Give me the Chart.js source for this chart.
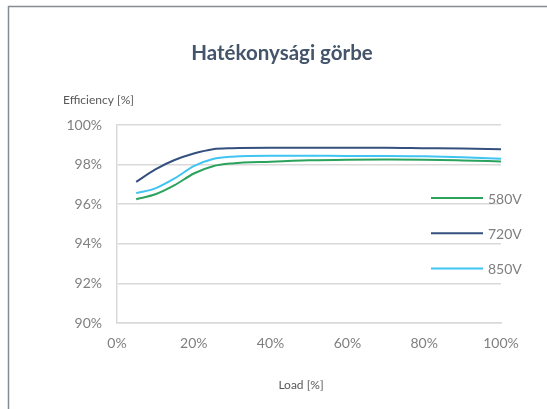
<!DOCTYPE html>
<html>
<head>
<meta charset="utf-8">
<script src="https://cdn.jsdelivr.net/npm/chart.js@4"></script>
<style>
  html, body { margin: 0; padding: 0; background: #fff; }
  #wrap { position: relative; width: 547px; height: 409px; }
</style>
</head>
<body>
<div id="wrap"><canvas id="effChart" width="547" height="409"></canvas></div>
<script>
// Adatok (terhelés % -> hatásfok %)
const loadPct = [5, 10, 15, 20, 25, 30, 40, 50, 60, 70, 80, 90, 100];
const eff580 = [96.25, 96.5, 96.96, 97.55, 97.92, 98.06, 98.15, 98.22, 98.25, 98.26, 98.25, 98.21, 98.16];
const eff720 = [97.13, 97.76, 98.23, 98.56, 98.78, 98.83, 98.85, 98.85, 98.85, 98.85, 98.83, 98.81, 98.77];
const eff850 = [96.56, 96.8, 97.3, 97.92, 98.28, 98.4, 98.45, 98.45, 98.44, 98.44, 98.42, 98.37, 98.3];
const seriesNames = ["580V", "720V", "850V"];
const xTicks = [0, 20, 40, 60, 80, 100];
const yTicks = [90, 92, 94, 96, 98, 100];

const FONT = "Lato, 'Open Sans', sans-serif";
const gridColor = "#d9d9d9";
const labelColor = "#7f7f7f";

function pts(vals) {
    return loadPct.map((x, i) => ({ x: x, y: vals[i] }));
}

// keret, cím, tengelycímek, jelmagyarázat
const decorPlugin = {
    id: "decor",
    afterDraw(chart) {
        const ctx = chart.ctx;
        const area = chart.chartArea;
        ctx.save();

        // keret (jobbra és lent levágva)
        ctx.strokeStyle = "#858c92";
        ctx.lineWidth = 1.5;
        ctx.beginPath();
        ctx.moveTo(8.5, 409);
        ctx.lineTo(8.5, 6.5);
        ctx.lineTo(547, 6.5);
        ctx.stroke();

        // cím
        ctx.fillStyle = "#44546a";
        ctx.font = "bold 20.5px " + FONT;
        ctx.textAlign = "center";
        ctx.textBaseline = "alphabetic";
        ctx.fillText("Hatékonysági görbe", 282, 60);

        // tengelycímek
        ctx.fillStyle = "#595959";
        ctx.font = "12px " + FONT;
        ctx.textAlign = "left";
        ctx.fillText("Efficiency [%]", 63, 104);
        ctx.textAlign = "center";
        ctx.fillText("Load [%]", 301, 389);

        // jelmagyarázat
        ctx.font = "14px " + FONT;
        ctx.textAlign = "left";
        ctx.textBaseline = "middle";
        chart.data.datasets.forEach((ds, i) => {
            const y = area.top + 73 + i * 35.3;
            ctx.strokeStyle = ds.borderColor;
            ctx.lineWidth = 2;
            ctx.beginPath();
            ctx.moveTo(area.right - 70, y);
            ctx.lineTo(area.right - 18, y);
            ctx.stroke();
            ctx.fillStyle = labelColor;
            ctx.fillText(ds.label, area.right - 13, y + 1);
        });

        ctx.restore();
    }
};

new Chart(document.getElementById("effChart"), {
    type: "line",
    data: {
        datasets: [
            { label: seriesNames[0], data: pts(eff580), borderColor: "#2ba35c" },
            { label: seriesNames[1], data: pts(eff720), borderColor: "#34507f" },
            { label: seriesNames[2], data: pts(eff850), borderColor: "#40c4f2" }
        ]
    },
    options: {
        responsive: false,
        animation: false,
        layout: { padding: { left: 0, top: 125, right: 46, bottom: 0 } },
        elements: {
            line: { borderWidth: 2, cubicInterpolationMode: "monotone", fill: false },
            point: { radius: 0 }
        },
        plugins: {
            legend: { display: false },
            title: { display: false },
            tooltip: { enabled: false }
        },
        scales: {
            x: {
                type: "linear",
                min: 0,
                max: 100,
                afterFit(scale) { scale.height = 86; },
                afterBuildTicks(scale) { scale.ticks = xTicks.map(v => ({ value: v })); },
                grid: { display: false, drawTicks: false },
                border: { display: true, color: gridColor, width: 1.5 },
                ticks: {
                    padding: 12,
                    color: labelColor,
                    font: { family: FONT, size: 14 },
                    maxRotation: 0,
                    callback: v => v + "%"
                }
            },
            y: {
                min: 90,
                max: 100,
                afterFit(scale) { scale.width = 117; },
                afterBuildTicks(scale) { scale.ticks = yTicks.map(v => ({ value: v })); },
                grid: { color: gridColor, lineWidth: 1.5, drawTicks: false },
                border: { display: true, color: gridColor, width: 1.5 },
                ticks: {
                    padding: 15,
                    color: labelColor,
                    font: { family: FONT, size: 14 },
                    callback: v => v + "%"
                }
            }
        }
    },
    plugins: [decorPlugin]
});
</script>
</body>
</html>
